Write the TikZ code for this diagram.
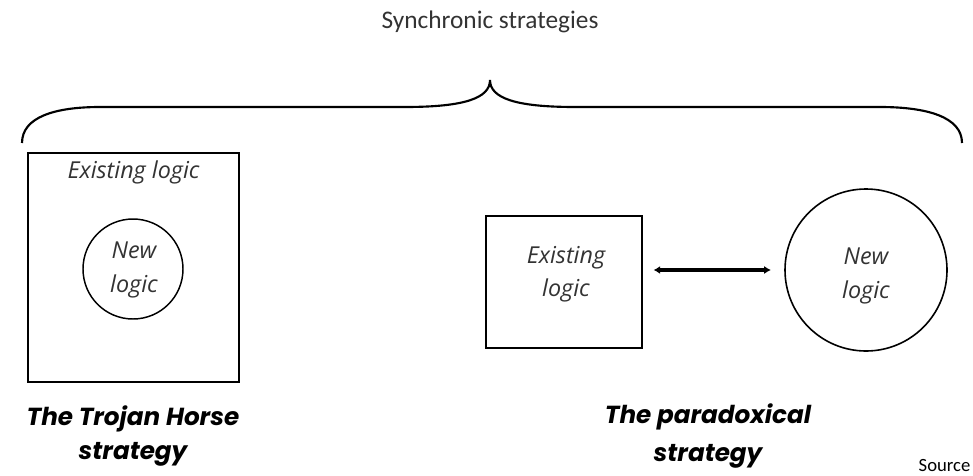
\documentclass[tikz,border=0pt]{standalone}
\usepackage{fontspec}
\setmainfont{Carlito}
\newfontfamily\logicfont{Open Sans}
\newfontfamily\stratfont{Poppins}
\usetikzlibrary{arrows.meta,positioning}

\begin{document}
\begin{tikzpicture}[x=0.75pt,y=-0.75pt,
	box/.style={draw, line width=1.4pt, inner sep=0pt},
	logic/.style={font=\logicfont\fontsize{17.5}{25}\selectfont\itshape, align=center, text=black!80},
	strat/.style={font=\stratfont\fontsize{18.5}{26}\selectfont\bfseries\itshape, align=center},
	link/.style={{Latex[length=5pt,width=6pt]}-{Latex[length=5pt,width=6pt]}, line width=2.6pt}]
	\useasboundingbox (0,0) rectangle (973,475);

	\node[font=\fontsize{19}{23}\selectfont, text=black!80] (title) at (490,22) {Synchronic strategies};
	% the brace
	\draw[line width=1.6pt] (22,143) .. controls (22,117) and (55,107) .. (100,107) -- (405,107)
		.. controls (465,107) and (490,98) .. (490,80)
		.. controls (490,98) and (515,107) .. (575,107) -- (880,107)
		.. controls (927,107) and (962,117) .. (962,143);

	% Trojan Horse
	\node[box, minimum width=211*0.75pt, minimum height=229*0.75pt] (trojan) at (133.5,267.5) {};
	\node[logic, below=3pt of trojan.north] (exist1) {Existing logic};
	\node[box, circle, line width=1.1pt, minimum size=100*0.75pt] (new1) at (133,269) {};
	\node[logic] at (134,270) {New\\logic};
	\node[strat] (trojanlbl) at (133,436) {The Trojan Horse\\strategy};

	% paradoxical
	\node[box, line width=1.2pt, minimum width=156*0.75pt, minimum height=132*0.75pt] (exist2) at (564,282) {};
	\node[logic] at (566,274) {Existing\\logic};
	\node[box, circle, line width=1.2pt, minimum size=162*0.75pt] (new2) at (866,270) {};
	\node[logic] at (866,276) {New\\logic};
	\draw[link, shorten <=8pt, shorten >=10pt] (exist2.east |- new2.center) -- (new2.west);
	\node[strat, font=\stratfont\fontsize{18.5}{29}\selectfont\bfseries\itshape] (paralbl) at (708,436) {The paradoxical\\strategy};

	\node[anchor=west, font=\fontsize{14}{16}\selectfont] (src) at (914,466) {Source};
\end{tikzpicture}
\end{document}
